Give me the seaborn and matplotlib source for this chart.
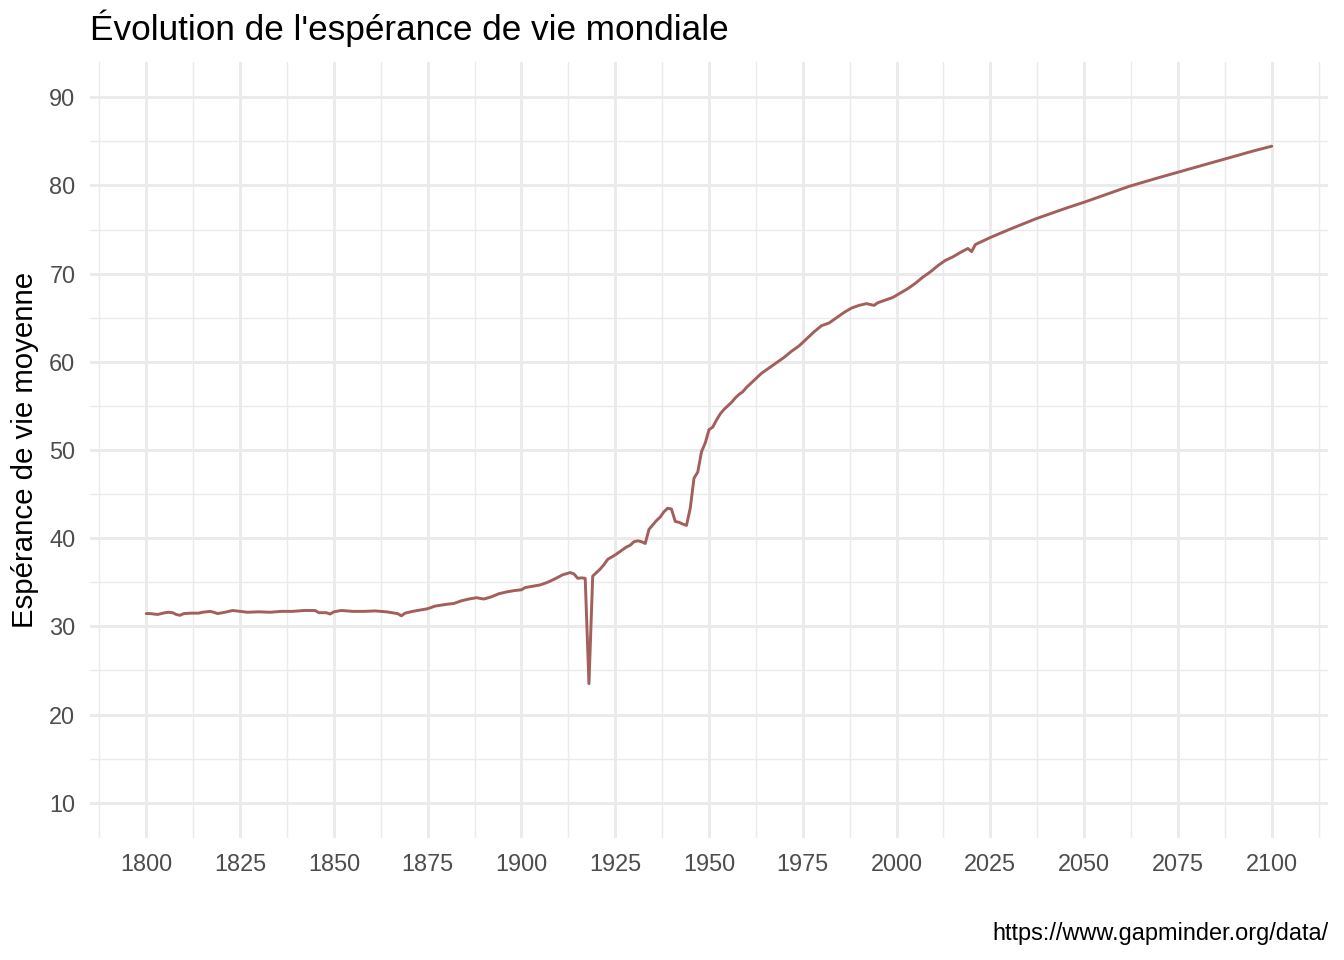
import pandas as pd
import matplotlib
matplotlib.use('Agg')
import matplotlib.pyplot as plt
import seaborn as sns
import numpy as np

# values (world life expectancy, gapminder)
years = [1800, 1801, 1802, 1803, 1804, 1805, 1806, 1807, 1808, 1809,
         1810, 1812, 1814, 1815, 1817, 1818, 1819, 1821, 1823, 1825,
         1827, 1830, 1833, 1836, 1839, 1842, 1845, 1846, 1848, 1849,
         1850, 1852, 1855, 1858, 1861, 1864, 1867, 1868, 1869, 1871,
         1873, 1875, 1877, 1880, 1882, 1884, 1886, 1888, 1890, 1892,
         1894, 1896, 1898, 1900, 1901, 1903, 1905, 1907, 1909, 1911,
         1913, 1914, 1915, 1916, 1917, 1918, 1919, 1921, 1922, 1923,
         1925, 1927, 1928, 1929, 1930, 1931, 1932, 1933, 1934, 1936,
         1937, 1938, 1939, 1940, 1941, 1942, 1943, 1944, 1945, 1946,
         1947, 1948, 1949, 1950, 1951, 1952, 1953, 1954, 1955, 1956,
         1957, 1958, 1959, 1960, 1962, 1964, 1966, 1968, 1970, 1972,
         1974, 1976, 1978, 1980, 1982, 1984, 1986, 1988, 1990, 1992,
         1994, 1995, 1997, 1999, 2001, 2003, 2005, 2007, 2009, 2011,
         2013, 2015, 2017, 2019, 2020, 2021, 2022, 2025, 2030, 2037,
         2045, 2050, 2055, 2062, 2070, 2075, 2080, 2087, 2095, 2100]
life_exp = [31.45, 31.45, 31.4, 31.35, 31.45, 31.55, 31.6, 31.55, 31.35, 31.25,
            31.45, 31.5, 31.5, 31.6, 31.7, 31.6, 31.45, 31.6, 31.8, 31.7,
            31.6, 31.65, 31.6, 31.7, 31.7, 31.8, 31.8, 31.55, 31.55, 31.4,
            31.65, 31.8, 31.7, 31.7, 31.75, 31.65, 31.45, 31.2, 31.5, 31.7,
            31.85, 32.0, 32.3, 32.5, 32.6, 32.9, 33.1, 33.25, 33.1, 33.35,
            33.7, 33.9, 34.05, 34.15, 34.4, 34.55, 34.7, 35.0, 35.4, 35.85,
            36.1, 35.95, 35.45, 35.5, 35.45, 23.5, 35.7, 36.5, 37.0, 37.6,
            38.1, 38.7, 39.0, 39.2, 39.6, 39.7, 39.6, 39.4, 41.0, 42.0,
            42.4, 43.0, 43.4, 43.3, 41.9, 41.8, 41.6, 41.45, 43.4, 46.8,
            47.5, 49.8, 50.8, 52.3, 52.6, 53.4, 54.1, 54.6, 55.0, 55.4,
            55.9, 56.3, 56.6, 57.1, 57.9, 58.7, 59.3, 59.9, 60.5, 61.2,
            61.8, 62.6, 63.4, 64.1, 64.4, 65.0, 65.6, 66.1, 66.4, 66.6,
            66.4, 66.7, 67.0, 67.3, 67.8, 68.3, 68.9, 69.6, 70.2, 70.9,
            71.5, 71.9, 72.4, 72.85, 72.5, 73.3, 73.5, 74.1, 75.0, 76.2,
            77.4, 78.1, 78.85, 79.9, 80.9, 81.5, 82.1, 82.95, 83.9, 84.45]

x_breaks = list(range(1800, 2101, 25))
y_breaks = list(range(10, 91, 10))

title = "Évolution de l'espérance de vie mondiale"
ylabel = "Espérance de vie moyenne"
caption = "https://www.gapminder.org/data/"

df = pd.DataFrame({'annee': years, 'esperance': life_exp})

sns.set_style('white')
plt.rcParams['font.family'] = ['Liberation Sans', 'DejaVu Sans']

fig = plt.figure(figsize=(7, 5), dpi=192)
ax = fig.add_axes([90 / 1344, 1 - 838 / 960, (1328 - 90) / 1344, (838 - 62) / 960])

sns.lineplot(data=df, x='annee', y='esperance', color='#A35F5B', linewidth=1.1, ax=ax)

ax.set_xlim(1785, 2115)
ax.set_ylim(6, 94)
ax.set_xticks(x_breaks)
ax.set_yticks(y_breaks)
ax.set_xticks([b + 12.5 for b in [1775] + x_breaks], minor=True)
ax.set_yticks([b + 5 for b in y_breaks[:-1]], minor=True)
ax.grid(which='major', color='#EBEBEB', linewidth=1.1)
ax.grid(which='minor', color='#EBEBEB', linewidth=0.55)
ax.set_axisbelow(True)
for s in ax.spines.values():
    s.set_visible(False)
ax.tick_params(which='both', length=0, pad=5.5, labelsize=8.8, labelcolor='#4D4D4D')

ax.set_xlabel('')
ax.set_ylabel(ylabel, fontsize=11, color='black', labelpad=4)
fig.text(90 / 1344, 1 - 40 / 960, title, fontsize=13.2, color='black', ha='left', va='baseline')
fig.text(1328 / 1344, 1 - 940 / 960, caption, fontsize=8.8, color='black', ha='right', va='baseline')

fig.savefig('out.png', dpi=192, facecolor='white')
